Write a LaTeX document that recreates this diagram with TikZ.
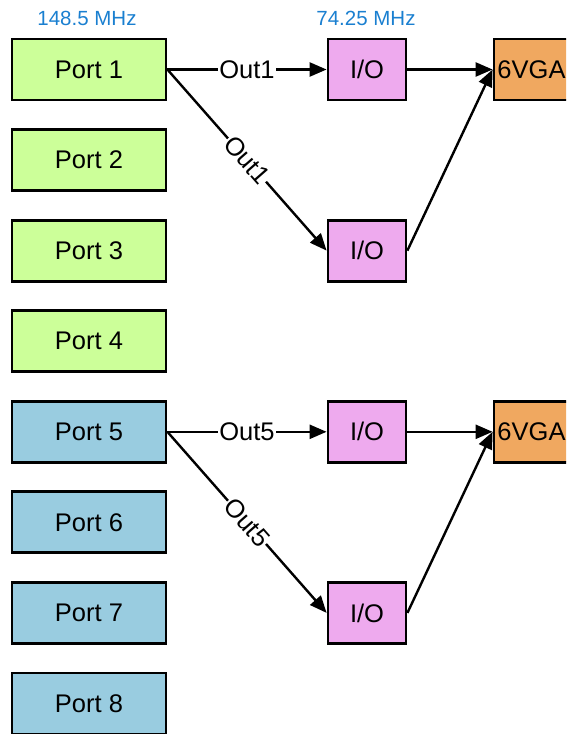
\documentclass[tikz,border=0pt]{standalone}
\usepackage{fontspec}
\setmainfont{Liberation Sans}
\usetikzlibrary{arrows.meta}
\definecolor{portgreen}{HTML}{CCFF99}
\definecolor{portblue}{HTML}{99CCE0}
\definecolor{iopink}{HTML}{EEAAEE}
\definecolor{vgaorange}{HTML}{F0A860}
\definecolor{freqblue}{HTML}{1A7FD0}
\tikzset{
  blk/.style={draw, line width=2.8pt, inner sep=0pt, minimum height=61pt, font=\fontsize{25.5}{25.5}\selectfont},
  portg/.style={blk, fill=portgreen, minimum width=154pt},
  portb/.style={blk, fill=portblue, minimum width=154pt},
  iobox/.style={blk, fill=iopink, minimum width=78pt},
  vgabox/.style={blk, fill=vgaorange, minimum width=75pt},
  freq/.style={text=freqblue, font=\fontsize{20.5}{20.5}\selectfont, inner sep=0pt},
  conn/.style={line width=2.4pt, -{Triangle[length=17pt,width=14pt]}},
  lbl/.style={fill=white, inner sep=1pt, font=\fontsize{25.5}{25.5}\selectfont}
}
\begin{document}
\begin{tikzpicture}[x=1pt,y=-1pt]
\useasboundingbox (0,0) rectangle (566,734);
\clip (0,0) rectangle (566,734);
\node[freq] (f1) at (87,18) {148.5 MHz};
\node[freq] (f2) at (366,18) {74.25 MHz};
\node[portg] (p1) at (89,69.5) {Port 1};
\node[portg] (p2) at (89,160.1) {Port 2};
\node[portg] (p3) at (89,250.6) {Port 3};
\node[portg] (p4) at (89,341.2) {Port 4};
\node[portb] (p5) at (89,431.8) {Port 5};
\node[portb] (p6) at (89,522.3) {Port 6};
\node[portb] (p7) at (89,612.9) {Port 7};
\node[portb] (p8) at (89,703.5) {Port 8};
\node[iobox] (io1) at (367,69.5) {I/O};
\node[iobox] (io2) at (367,250.6) {I/O};
\node[iobox] (io3) at (367,431.8) {I/O};
\node[iobox] (io4) at (367,612.9) {I/O};
\node[vgabox] (v1) at (531.5,69.5) {6VGA};
\node[vgabox] (v2) at (531.5,431.8) {6VGA};
\draw[conn] (p1.east) -- node[lbl] {Out1} (io1.west);
\draw[conn] (p1.east) -- node[lbl, sloped] {Out1} (io2.west);
\draw[conn] (io1.east) -- (v1.west);
\draw[conn] (io2.east) -- (v1.west);
\draw[conn] (p5.east) -- node[lbl] {Out5} (io3.west);
\draw[conn] (p5.east) -- node[lbl, sloped] {Out5} (io4.west);
\draw[conn] (io3.east) -- (v2.west);
\draw[conn] (io4.east) -- (v2.west);
\end{tikzpicture}
\end{document}
